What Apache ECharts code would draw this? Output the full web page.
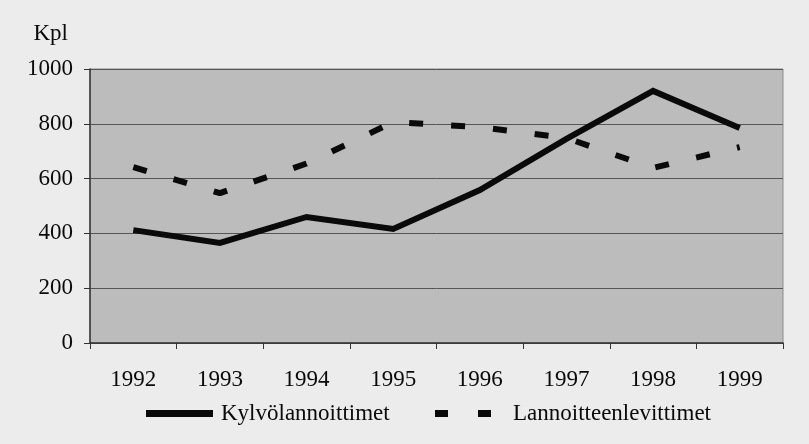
<!DOCTYPE html>
<html>
<head>
<meta charset="utf-8">
<script src="https://cdn.jsdelivr.net/npm/echarts@6/dist/echarts.min.js"></script>
<style>
  html, body { margin: 0; padding: 0; background: #ececec; }
  #chart { width: 809px; height: 444px; }
</style>
</head>
<body>
<div id="chart"></div>
<script>
// Years on the horizontal axis
const years = ['1992', '1993', '1994', '1995', '1996', '1997', '1998', '1999'];
// Units (kpl) per year
const kylvolannoittimet = [412, 365, 460, 416, 558, 745, 920, 785];
const lannoitteenlevittimet = [642, 547, 655, 806, 788, 748, 639, 715];

const serif = 'Liberation Serif, Times New Roman, DejaVu Serif, serif';
const ink = '#0a0a0a';
const legendText = { fontFamily: serif, fontSize: 23, color: ink };

const chart = echarts.init(document.getElementById('chart'));
chart.setOption({
  backgroundColor: '#ececec',
  animation: false,
  textStyle: { fontFamily: serif, color: ink },
  grid: {
    left: 90, right: 26, top: 69, bottom: 101,
    show: true,
    backgroundColor: '#bcbcbc',
    borderColor: '#8a8a8a',
    borderWidth: 1
  },
  legend: [
    {
      left: 141, top: 397,
      itemWidth: 67, itemHeight: 7,
      textStyle: Object.assign({ padding: [0, 0, 0, 3] }, legendText),
      data: [{ name: 'Kylvölannoittimet', icon: 'rect' }]
    },
    {
      left: 430, top: 397,
      itemWidth: 56, itemHeight: 7,
      textStyle: Object.assign({ padding: [0, 0, 0, 17] }, legendText),
      data: [{ name: 'Lannoitteenlevittimet', icon: 'path://M0,0h13v7h-13z M43,0h13v7h-13z' }]
    }
  ],
  xAxis: {
    type: 'category',
    data: years,
    boundaryGap: true,
    axisLine: { lineStyle: { color: '#333', width: 1.5 } },
    axisTick: { show: true, length: 6, lineStyle: { color: '#333' } },
    axisLabel: { fontFamily: serif, fontSize: 23, color: ink, margin: 25 },
    splitLine: { show: false }
  },
  yAxis: {
    type: 'value',
    min: 0, max: 1000, interval: 200,
    name: 'Kpl',
    nameLocation: 'end',
    nameGap: 24,
    nameTextStyle: { fontFamily: serif, fontSize: 23, color: ink, align: 'right', padding: [0, 22, 0, 0] },
    axisLine: { show: true, lineStyle: { color: '#333', width: 1.5 } },
    axisTick: { show: true, length: 6, lineStyle: { color: '#333' } },
    axisLabel: { fontFamily: serif, fontSize: 23, color: ink, margin: 17, formatter: v => String(v) },
    splitLine: { show: true, lineStyle: { color: '#555', width: 1 } }
  },
  series: [
    {
      name: 'Kylvölannoittimet',
      type: 'line',
      data: kylvolannoittimet,
      symbol: 'none',
      lineStyle: { color: ink, width: 6, join: 'miter' },
      itemStyle: { color: ink }
    },
    {
      name: 'Lannoitteenlevittimet',
      type: 'line',
      data: lannoitteenlevittimet,
      symbol: 'none',
      lineStyle: { color: ink, width: 6, type: [14, 28] },
      itemStyle: { color: ink }
    }
  ]
});
</script>
</body>
</html>
